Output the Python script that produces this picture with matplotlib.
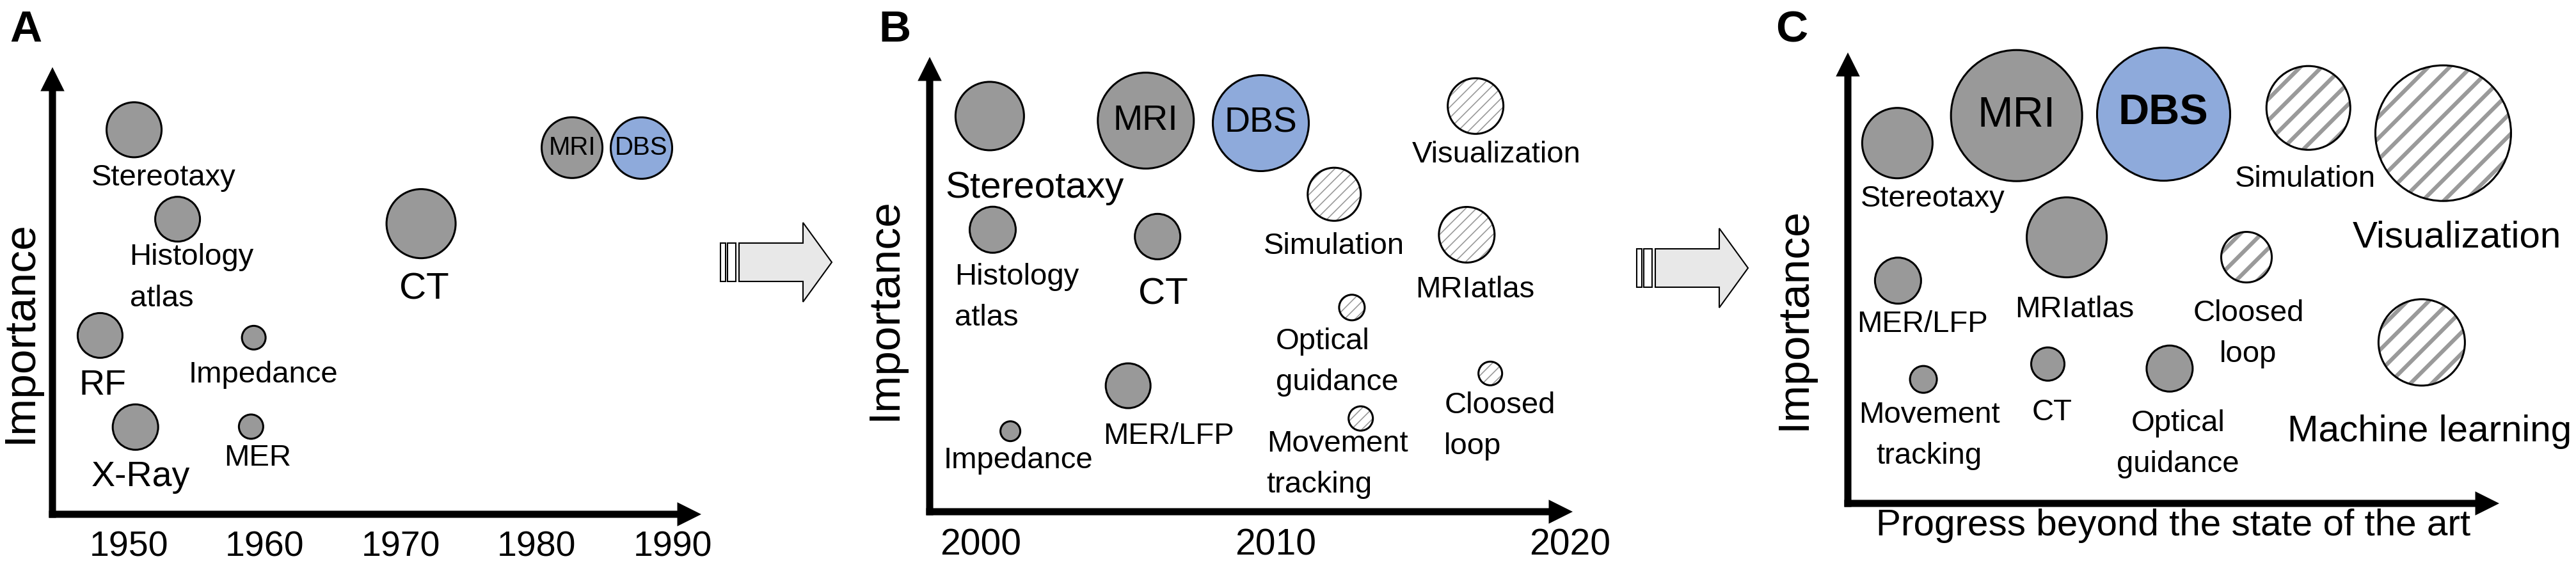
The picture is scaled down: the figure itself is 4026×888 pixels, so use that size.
import matplotlib
matplotlib.use('Agg')
import matplotlib.pyplot as plt
from matplotlib.patches import FancyArrowPatch, Polygon, Rectangle

plt.rcParams['font.family'] = ['Liberation Sans', 'DejaVu Sans']

W, H = 4026, 888
PT = 0.72  # points per pixel at dpi 100

GRAY = '#999999'
BLUE = '#8eaadb'

# ---------------- data ----------------
# panel A: 1945-1990
a_names = ['Stereotaxy', 'Histology\natlas', 'RF', 'X-Ray', 'Impedance', 'MER', 'CT', 'MRI', 'DBS']
a_year = [1950.4, 1953.6, 1947.9, 1950.5, 1959.2, 1959.0, 1971.5, 1982.6, 1987.7]
a_importance = [8.6, 6.6, 4.0, 1.95, 3.95, 1.96, 6.5, 8.2, 8.2]
a_size = [86, 70, 70, 71, 37, 38, 108, 95, 96]
a_kind = ['old', 'old', 'old', 'old', 'old', 'old', 'old', 'old', 'dbs']
a_ticks = [1950, 1960, 1970, 1980, 1990]

# panel B: 2000-2020
b_names = ['Stereotaxy', 'MRI', 'DBS', 'Histology\natlas', 'CT', 'MER/LFP', 'Impedance',
           'Simulation', 'Visualization', 'MRIatlas', 'Optical\nguidance', 'Movement\ntracking',
           'Cloosed\nloop']
b_year = [2000.3, 2005.6, 2009.5, 2000.4, 2006.0, 2005.0, 2001.0,
          2012.0, 2016.8, 2016.5, 2012.6, 2012.9, 2017.3]
b_importance = [8.7, 8.6, 8.55, 6.2, 6.05, 2.77, 1.77, 6.98, 8.92, 6.09, 4.49, 2.05, 3.04]
b_size = [107, 150, 150, 72, 71, 70, 31, 83, 87, 87, 40, 38, 37]
b_kind = ['old', 'old', 'dbs', 'old', 'old', 'old', 'old', 'new', 'new', 'new', 'new', 'new', 'new']
b_ticks = [2000, 2010, 2020]

# panel C: progress beyond the state of the art
c_names = ['Stereotaxy', 'MRI', 'DBS', 'Simulation', 'Visualization', 'MRIatlas',
           'Cloosed\nloop', 'Machine learning', 'MER/LFP', 'Movement\ntracking', 'CT',
           'Optical\nguidance']
c_progress = [0.76, 2.59, 4.84, 7.07, 9.14, 3.36, 6.12, 8.81, 0.77, 1.16, 3.07, 4.94]
c_importance = [7.99, 8.60, 8.64, 8.77, 8.21, 5.90, 5.46, 3.57, 4.94, 2.75, 3.09, 2.99]
c_size = [110, 205, 208, 131, 212, 125, 79, 135, 72, 42, 52, 72]
c_kind = ['old', 'old', 'dbs', 'new', 'new', 'old', 'new', 'new', 'old', 'old', 'old', 'old']

# ---------------- label layout (px right, px down, ha, size, weight) ----------------
a_lab = [(46, 75, 'center', 34, 'normal'), (-75, 92, 'left', 34, 'normal'),
         (4, 79, 'center', 40, 'normal'), (8, 78, 'center', 40, 'normal'),
         (15, 58, 'center', 34, 'normal'), (10, 49, 'center', 34, 'normal'),
         (5, 103, 'center', 42, 'normal'), (0, 0, 'center', 29, 'normal'),
         (0, 0, 'center', 29, 'normal')]
b_lab = [(70, 113, 'center', 42, 'normal'), (0, 0, 'center', 40, 'normal'),
         (0, 0, 'center', 40, 'normal'), (-59, 106, 'left', 34, 'normal'),
         (9, 91, 'center', 42, 'normal'), (63, 79, 'center', 34, 'normal'),
         (12, 46, 'center', 34, 'normal'), (0, 81, 'center', 34, 'normal'),
         (33, 76, 'center', 34, 'normal'), (13, 86, 'center', 34, 'normal'),
         (-119, 85, 'left', 34, 'normal'), (-147, 72, 'left', 34, 'normal'),
         (-72, 82, 'left', 34, 'normal')]
c_lab = [(55, 87, 'center', 34, 'normal'), (0, 0, 'center', 48, 'normal'),
         (0, 0, 'center', 48, 'bold'), (-5, 111, 'center', 34, 'normal'),
         (21, 163, 'center', 42, 'normal'), (12, 113, 'center', 34, 'normal'),
         (3, 120, 'center', 34, 'normal'), (12, 140, 'center', 42, 'normal'),
         (38, 68, 'center', 34, 'normal'), (9, 88, 'center', 34, 'normal'),
         (7, 76, 'center', 34, 'normal'), (13, 118, 'center', 34, 'normal')]

fig = plt.figure(figsize=(W / 100, H / 100), dpi=100)


def make_axes(x0, y0, x1, y1, xlim):
    # x0,y0 = axes origin (px, from top-left), x1 = x-arrow tip, y1 = y-arrow tip
    ax = fig.add_axes([x0 / W, (H - y0) / H, (x1 - x0) / W, (y0 - y1) / H])
    ax.set_xlim(*xlim)
    ax.set_ylim(0, 10)
    for s in ax.spines.values():
        s.set_visible(False)
    ax.patch.set_visible(False)
    ax.set_yticks([])
    ax.tick_params(axis='x', length=0)
    wpx, hpx = x1 - x0, y0 - y1
    style = 'simple,head_length=27,head_width=27,tail_width=8'
    for a, b in [((-5.5 / wpx, 0), (1, 0)), ((0, -5.5 / hpx), (0, 1))]:
        ax.add_patch(FancyArrowPatch(a, b, arrowstyle=style, mutation_scale=1,
                                     transform=ax.transAxes, color='black', lw=0,
                                     shrinkA=0, shrinkB=0, clip_on=False))
    return ax, wpx, hpx


def bubbles(ax, x, y, size, kind, hatch, hatch_lw):
    s = [(d * PT) ** 2 for d in size]
    for k, face in [('old', GRAY), ('dbs', BLUE)]:
        idx = [i for i, kk in enumerate(kind) if kk == k]
        if idx:
            ax.scatter([x[i] for i in idx], [y[i] for i in idx], s=[s[i] for i in idx],
                       c=face, edgecolors='black', linewidths=2.2, zorder=3, clip_on=False)
    idx = [i for i, kk in enumerate(kind) if kk == 'new']
    if idx:
        xs = [x[i] for i in idx]
        ys = [y[i] for i in idx]
        ss = [s[i] for i in idx]
        with plt.rc_context({'hatch.linewidth': hatch_lw}):
            sc = ax.scatter(xs, ys, s=ss, facecolors='white', edgecolors='#9a9a9a',
                            hatch=hatch, linewidths=0, zorder=3, clip_on=False)
        if hasattr(sc, 'set_hatch_linewidth'):
            sc.set_hatch_linewidth(hatch_lw)
        ax.scatter(xs, ys, s=ss, facecolors='none', edgecolors='black',
                   linewidths=2.2, zorder=4, clip_on=False)


def labels(ax, names, x, y, lay):
    for n, xi, yi, (dx, dy, ha, fs, fw) in zip(names, x, y, lay):
        ax.annotate(n, (xi, yi), xytext=(dx * PT, -dy * PT), textcoords='offset points',
                    ha=ha, va='center', fontsize=fs, fontweight=fw, linespacing=1.6,
                    zorder=5, annotation_clip=False)


def ylabel(ax, xpx, frac, hpx, wpx):
    ax.text(xpx / wpx, frac, 'Importance', transform=ax.transAxes, rotation=90,
            ha='center', va='center', fontsize=50)


# panel A
axA, wA, hA = make_axes(82, 804, 1096, 105, (1944.4, 1992.1))
bubbles(axA, a_year, a_importance, a_size, a_kind, '//', 1.0)
labels(axA, a_names, a_year, a_importance, a_lab)
axA.set_xticks(a_ticks)
axA.set_xticklabels([str(t) for t in a_ticks], fontsize=40)
axA.tick_params(axis='x', pad=18)
ylabel(axA, -50, 0.408, hA, wA)

# panel B
axB, wB, hB = make_axes(1453, 800, 2458, 89, (1998.26, 2020.1))
bubbles(axB, b_year, b_importance, b_size, b_kind, '//', 1.2)
labels(axB, b_names, b_year, b_importance, b_lab)
axB.set_xticks(b_ticks)
axB.set_xticklabels([str(t) for t in b_ticks], fontsize=41)
axB.tick_params(axis='x', pad=18)
ylabel(axB, -70, 0.446, hB, wB)

# panel C
axC, wC, hC = make_axes(2888, 787, 3906, 82, (0, 10))
bubbles(axC, c_progress, c_importance, c_size, c_kind, '/', 4.5)
labels(axC, c_names, c_progress, c_importance, c_lab)
axC.set_xticks([])
axC.set_xlabel('Progress beyond the state of the art', fontsize=42, labelpad=6)
ylabel(axC, -84, 0.41, hC, wC)


# block arrows between panels
def block_arrow(x0, yc):
    fx = lambda px: px / W
    fy = lambda py: (H - py) / H
    for a, b in [(0, 8), (11, 24)]:
        fig.patches.append(Rectangle((fx(x0 + a), fy(yc + 30)), (b - a) / W, 60 / H,
                                     transform=fig.transFigure, facecolor='white',
                                     edgecolor='black', lw=1.5))
    pts = [(29, -30), (129, -30), (129, -62), (174, 0), (129, 62), (129, 30), (29, 30)]
    fig.patches.append(Polygon([(fx(x0 + px), fy(yc + py)) for px, py in pts], closed=True,
                               transform=fig.transFigure, facecolor='#e8e8e8',
                               edgecolor='black', lw=1.5))


block_arrow(1126, 410)
block_arrow(2558, 419)

for letter, xpx in [('A', 40), ('B', 1398), ('C', 2800)]:
    fig.text(xpx / W, (H - 47) / H, letter, ha='center', va='center',
             fontsize=50, fontweight='bold')

fig.savefig('out.png', dpi=100, facecolor='white')
